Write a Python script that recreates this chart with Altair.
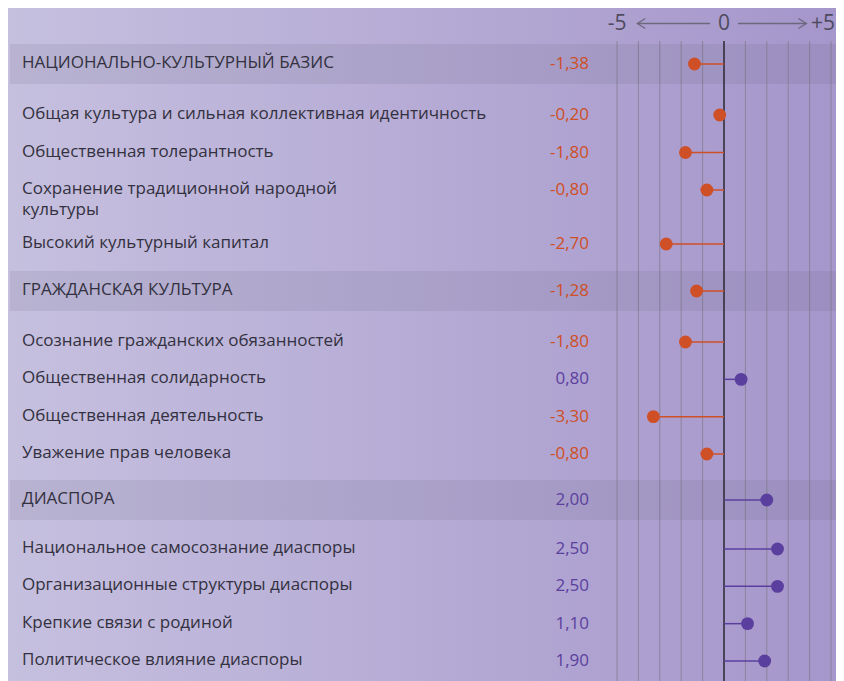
import altair as alt
import pandas as pd

# ---------------- data ----------------
labels = [
    "НАЦИОНАЛЬНО-КУЛЬТУРНЫЙ БАЗИС",
    "Общая культура и сильная коллективная идентичность",
    "Общественная толерантность",
    "Сохранение традиционной народной\nкультуры",
    "Высокий культурный капитал",
    "ГРАЖДАНСКАЯ КУЛЬТУРА",
    "Осознание гражданских обязанностей",
    "Общественная солидарность",
    "Общественная деятельность",
    "Уважение прав человека",
    "ДИАСПОРА",
    "Национальное самосознание диаспоры",
    "Организационные структуры диаспоры",
    "Крепкие связи с родиной",
    "Политическое влияние диаспоры",
]
values = [-1.38, -0.20, -1.80, -0.80, -2.70,
          -1.28, -1.80, 0.80, -3.30, -0.80,
          2.00, 2.50, 2.50, 1.10, 1.90]
kinds = ["header", "item", "item", "item", "item",
         "header", "item", "item", "item", "item",
         "header", "item", "item", "item", "item"]
groups = [1, 1, 1, 1, 1, 2, 2, 2, 2, 2, 3, 3, 3, 3, 3]

axis_values = [-5, 0, 5]
axis_labels = ["-5", "0", "+5"]
grid_values = list(range(-5, 6))

# ---------------- styles ----------------
ORANGE = "#cf4f26"
PURPLE = "#5b3f9e"
GRID = "#8a849a"
ZERO = "#2f2b3b"
TEXT = "#333140"
ARROW = "#6c687e"
FONT = "Open Sans"
W = 828

df = pd.DataFrame({
    "label": labels,
    "value": values,
    "kind": kinds,
    "group": groups,
})
df["zero"] = 0.0
df["sign"] = ["neg" if v < 0 else "pos" for v in values]
df["vtext"] = [f"{v:.2f}".replace(".", ",") for v in values]

xs = alt.Scale(domain=[-5, 5], range=[609, 823])
color_enc = alt.Color("sign:N", scale=alt.Scale(domain=["neg", "pos"], range=[ORANGE, PURPLE]), legend=None)
one = pd.DataFrame({"z": [0.0]})
grad = alt.LinearGradient(
    gradient="linear",
    stops=[alt.GradientStop(color="#c6c0df", offset=0),
           alt.GradientStop(color="#a596cb", offset=1)],
    x1=0, x2=1, y1=0, y2=0,
)


def background(h):
    return alt.Chart(one).mark_rect(color=grad).encode(
        x=alt.value(0), x2=alt.value(W), y=alt.value(0), y2=alt.value(h))


def grid_layer():
    return alt.Chart(pd.DataFrame({"g": grid_values})).mark_rule(
        color=GRID, strokeWidth=1).encode(x=alt.X("g:Q", scale=xs, axis=None))


def zero_layer():
    return alt.Chart(one).mark_rule(color=ZERO, strokeWidth=1.5).encode(
        x=alt.X("z:Q", scale=xs, axis=None))


def panel(sub, h, yrange, header):
    if yrange is None:
        ys = alt.Scale(type="point", padding=0.5)
    else:
        ys = alt.Scale(type="point", padding=0, range=yrange)
    yenc = alt.Y("label:N", sort=list(sub["label"]), scale=ys, axis=None)
    base = alt.Chart(sub)
    layers = [background(h), grid_layer()]
    if header:
        layers.append(alt.Chart(one).mark_rect(color="#5e5775", opacity=0.12).encode(
            x=alt.value(2), x2=alt.value(W), y=alt.value(0), y2=alt.value(h)))
    layers.append(zero_layer())
    layers.append(base.mark_rule(strokeWidth=1.5).encode(
        x=alt.X("value:Q", scale=xs, axis=None), x2="zero:Q", y=yenc, color=color_enc))
    layers.append(base.mark_point(filled=True, size=165, opacity=1).encode(
        x=alt.X("value:Q", scale=xs, axis=None), y=yenc, color=color_enc))
    layers.append(base.mark_text(align="left", baseline="middle", fontSize=17, font=FONT,
                                 color=TEXT, lineBreak="\n", lineHeight=21, dy=-1).encode(
        x=alt.value(14), y=yenc, text="label:N"))
    layers.append(base.mark_text(align="right", baseline="middle", fontSize=17, font=FONT).encode(
        x=alt.value(581), y=yenc, text="vtext:N", color=color_enc))
    return alt.layer(*layers).properties(width=W, height=h)


# top scale panel
top_h = 36
axis_df = pd.DataFrame({"v": axis_values, "t": axis_labels})
arrows = pd.DataFrame({"a": [-4.05, 0.65], "b": [-0.65, 3.85]})
top = alt.layer(
    background(top_h),
    alt.Chart(pd.DataFrame({"g": grid_values})).mark_rule(color=GRID, strokeWidth=1).encode(
        x=alt.X("g:Q", scale=xs, axis=None), y=alt.value(33), y2=alt.value(top_h)),
    alt.Chart(one).mark_rule(color=ZERO, strokeWidth=1.5).encode(
        x=alt.X("z:Q", scale=xs, axis=None), y=alt.value(33), y2=alt.value(top_h)),
    alt.Chart(axis_df.iloc[:2]).mark_text(fontSize=21, font=FONT, color="#4e4b5e",
                                          baseline="middle").encode(
        x=alt.X("v:Q", scale=xs, axis=None), y=alt.value(16), text="t:N"),
    alt.Chart(axis_df.iloc[2:]).mark_text(fontSize=21, font=FONT, color="#4e4b5e",
                                          baseline="middle", align="right").encode(
        x=alt.value(W - 1), y=alt.value(16), text="t:N"),
    alt.Chart(arrows).mark_rule(color=ARROW, strokeWidth=1.3).encode(
        x=alt.X("a:Q", scale=xs, axis=None), x2="b:Q", y=alt.value(15.5)),
    alt.Chart(arrows.iloc[[0]]).mark_point(shape="M 1.6 -1 L 0 0 L 1.6 1", filled=False, size=100,
                                           opacity=1, color=ARROW, strokeWidth=1.3).encode(
        x=alt.X("a:Q", scale=xs, axis=None), y=alt.value(15.5)),
    alt.Chart(arrows.iloc[[1]]).mark_point(shape="M -1.6 -1 L 0 0 L -1.6 1", filled=False, size=100,
                                           opacity=1, color=ARROW, strokeWidth=1.3).encode(
        x=alt.X("b:Q", scale=xs, axis=None), y=alt.value(15.5)),
).properties(width=W, height=top_h)

panels = [top]
# (group, header?, slice of item rows, panel height, y range)
layout = [
    (1, [(slice(0, 3), 141, [31, 106]), (slice(3, 4), 46, [19, 19])]),
    (2, [(slice(0, 4), 169, [31, 143])]),
    (3, [(slice(0, 4), 161, [29, 141])]),
]
for g, parts in layout:
    sub = df[df["group"] == g]
    panels.append(panel(sub[sub["kind"] == "header"].reset_index(drop=True), 40, None, True))
    items = sub[sub["kind"] == "item"].reset_index(drop=True)
    for sl, ih, yr in parts:
        panels.append(panel(items.iloc[sl].reset_index(drop=True), ih, yr, False))

chart = alt.vconcat(*panels, spacing=0, bounds="flush").resolve_scale(
    x="independent", y="independent", color="independent"
).properties(padding=0, background="#b5acd6").configure_view(stroke=None)

chart.save("out.html", embed_options={"renderer": "svg", "actions": False})
